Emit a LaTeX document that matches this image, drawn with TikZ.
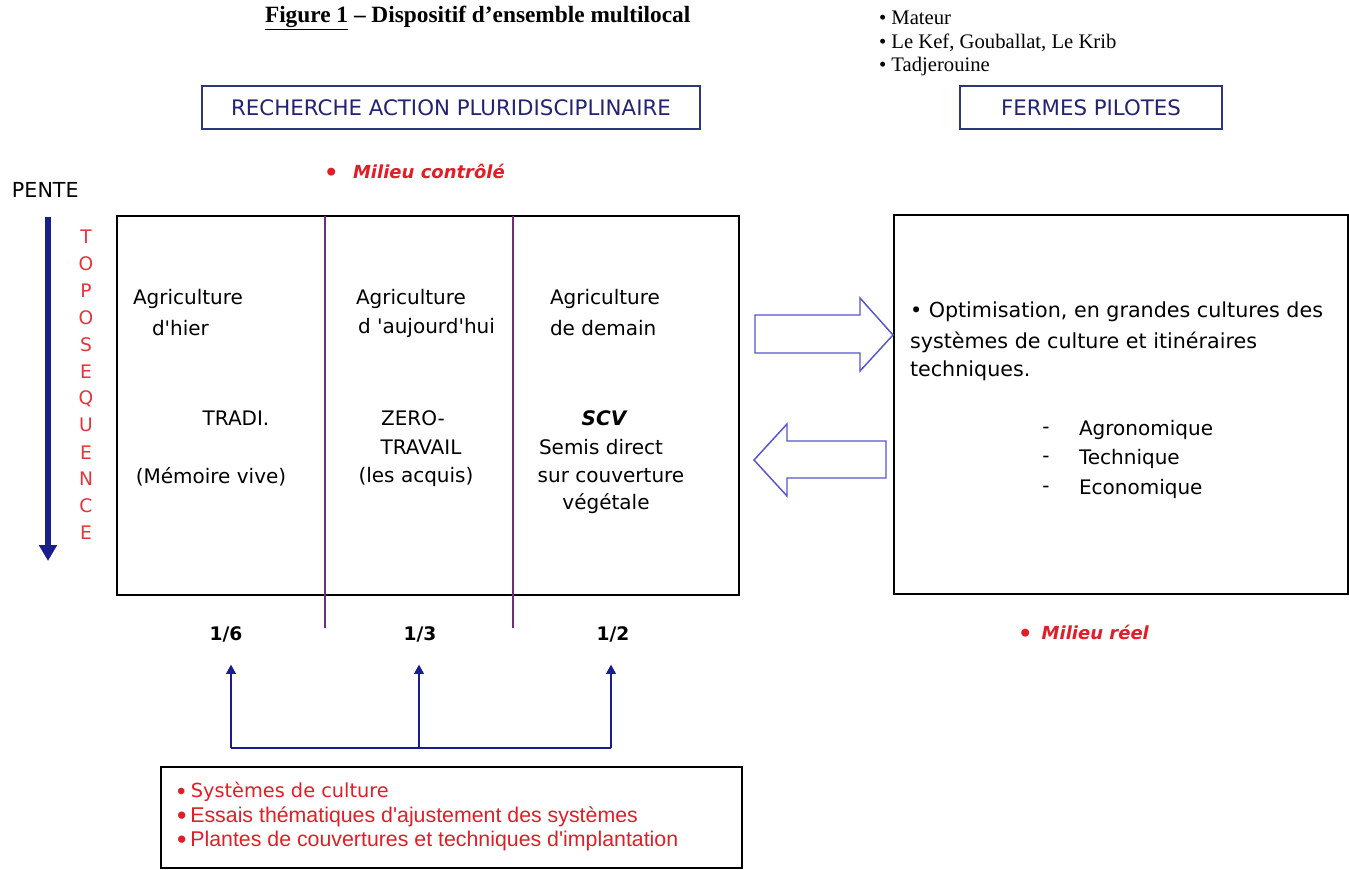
\documentclass[tikz,border=0pt]{standalone}
\usepackage{fontspec}
\setmainfont{Liberation Serif}
\newfontfamily\comicfont{DejaVu Sans}
\newfontfamily\arialfont{Liberation Sans}
\usetikzlibrary{fit,arrows.meta}

\definecolor{navy}{RGB}{35,35,115}
\definecolor{arrowblue}{RGB}{25,30,140}
\definecolor{alertred}{RGB}{225,30,40}
\definecolor{blockblue}{RGB}{85,85,205}
\definecolor{divpurple}{RGB}{110,45,125}
\definecolor{frameblue}{RGB}{45,55,125}

\newcommand{\bigdot}{\raisebox{-0.22ex}{\scalebox{1.25}{\textbullet}}}

\begin{document}
\begin{tikzpicture}[x=0.75pt,y=-0.75pt,
  every node/.style={inner sep=0pt,outer sep=0pt},
  comic/.style={font=\comicfont\fontsize{15}{18}\selectfont},
  comicright/.style={font=\comicfont\fontsize{15.5}{18}\selectfont},
  tnr/.style={font=\fontsize{15.5}{18}\selectfont},
  milieu/.style={font=\comicfont\bfseries\itshape\fontsize{13.5}{16}\selectfont, text=alertred},
  fraclabel/.style={font=\comicfont\bfseries\fontsize{14}{17}\selectfont},
  topoletter/.style={font=\comicfont\fontsize{14}{16}\selectfont, text=alertred!90!white},
  boxframe/.style={draw, line width=1.2pt},
  titlebox/.style={draw=frameblue, line width=1.1pt},
  titletext/.style={text=navy, font=\comicfont\fontsize{16}{19}\selectfont},
  divider/.style={draw=divpurple, line width=1.1pt},
  blockarrow/.style={draw=blockblue, line width=1.1pt, fill=white, line join=miter},
  treeline/.style={draw=arrowblue, line width=1.8pt},
  treearrow/.style={treeline, -{Triangle[width=7pt,length=7pt]}},
  redtext/.style={text=alertred},
]
\useasboundingbox (0,0) rectangle (1349,869);
\fill[white] (0,0) rectangle (1349,869);

% heading and site list
\node[anchor=west, font=\bfseries\fontsize{17.5}{20}\selectfont] (title) at (265,18)
  {\underline{Figure 1} – Dispositif d'ensemble multilocal};
\node[anchor=west, tnr] (site1) at (879,18) {\textbullet\ Mateur};
\node[anchor=west, tnr] (site2) at (879,43) {\textbullet\ Le Kef, Gouballat, Le Krib};
\node[anchor=west, tnr] (site3) at (879,67) {\textbullet\ Tadjerouine};

% headline boxes
\node[fit={(202,86) (700,129)}, titlebox] (rap) {};
\node[titletext] (raptext) at (rap.center) {RECHERCHE ACTION PLURIDISCIPLINAIRE};
\node[fit={(960,86) (1222,129)}, titlebox] (fp) {};
\node[titletext] (fptext) at (fp.center) {FERMES PILOTES};

% controlled environment
\node[milieu, anchor=base west] (mc) at (324,178) {\bigdot\hspace{11pt}Milieu contrôlé};

% slope / toposequence
\node[anchor=west, font=\comicfont\fontsize{15.5}{18}\selectfont] (pente) at (12,190) {PENTE};
\coordinate (slopetop) at (48,217);
\coordinate (slopebot) at (48,561);
\draw[arrowblue, line width=4.5pt, -{Triangle[width=13pt,length=12pt]}] (slopetop) -- (slopebot);
\foreach \l [count=\i from 0] in {T,O,P,O,S,E,Q,U,E,N,C,E}
  \node[topoletter] (topo\i) at (86,237+26.9*\i) {\l};

% main experimental block
\node[fit={(117,216) (739,595)}, boxframe] (main) {};
\coordinate (d1) at (325,628);
\coordinate (d2) at (513,628);
\draw[divider] (main.north -| d1) -- (d1);
\draw[divider] (main.north -| d2) -- (d2);

\node[comic, anchor=west] (a1) at (133,299) {Agriculture};
\node[comic, anchor=west] (a1b) at (152,328) {d'hier};
\node[comic, anchor=west] (a2) at (356,299) {Agriculture};
\node[comic, anchor=west] (a2b) at (358,328) {d 'aujourd'hui};
\node[comic, anchor=west] (a3) at (550,299) {Agriculture};
\node[comic, anchor=west] (a3b) at (550,328) {de demain};

\node[comic] (tradi) at (236,418) {TRADI.};
\node[comic] (memo) at (211,477) {(Mémoire vive)};
\node[comic] (zero) at (413,418) {ZERO-};
\node[comic] (trav) at (421,447) {TRAVAIL};
\node[comic] (acq) at (416,477) {(les acquis)};
\node[font=\comicfont\bfseries\itshape\fontsize{15}{18}\selectfont] (scv) at (604,418) {SCV};
\node[comic] (semis) at (601,447) {Semis direct};
\node[comic] (couv) at (611,476) {sur couverture};
\node[comic] (veg) at (606,504) {végétale};

% pilot farms block
\node[fit={(894,215) (1348,594)}, boxframe] (farm) {};
\node[comicright, anchor=west] (o1) at (910,312) {• Optimisation, en grandes cultures des};
\node[comicright, anchor=west] (o2) at (910,342) {systèmes de culture et itinéraires};
\node[comicright, anchor=west] (o3) at (910,371) {techniques.};
\foreach \y/\t [count=\i] in {430/Agronomique, 459/Technique, 489/Economique} {
  \node[comic] (dash\i) at (1046,\y) {-};
  \node[comic, anchor=west] (crit\i) at (1079,\y) {\t};
}

% exchange arrows between the two blocks
\coordinate (rtip) at (893,335);
\draw[blockarrow] (rtip) -- ++(-33,-37) -- ++(0,17) -- ++(-105,0) -- ++(0,38)
  -- ++(105,0) -- ++(0,18) -- cycle;
\coordinate (ltip) at (754,460);
\draw[blockarrow] (ltip) -- ++(33,-36) -- ++(0,17) -- ++(99,0) -- ++(0,37)
  -- ++(-99,0) -- ++(0,18) -- cycle;

% shares and real environment
\node[fraclabel] (f16) at (226,634) {1/6};
\node[fraclabel] (f13) at (420,634) {1/3};
\node[fraclabel] (f12) at (613,634) {1/2};
\node[milieu, anchor=base west] (mr) at (1018,639) {\bigdot\hspace{7pt}Milieu réel};

% feed-back tree from the trials
\coordinate (jl) at (231,748);
\coordinate (jm) at (419,748);
\coordinate (jr) at (611,748);
\draw[treeline] (jl) -- (jr);
\draw[treearrow, shorten >=17pt] (jl) -- (jl |- f16.south);
\draw[treearrow, shorten >=17pt] (jm) -- (jm |- f13.south);
\draw[treearrow, shorten >=17pt] (jr) -- (jr |- f12.south);

% trials box
\node[fit={(161,767) (742,868)}, boxframe] (trials) {};
\node[redtext, anchor=base west, font=\comicfont\fontsize{14.5}{18}\selectfont] (t1) at (177,797)
  {{\arialfont\bigdot}\hspace{4pt}Systèmes de culture};
\node[redtext, anchor=base west, font=\arialfont\fontsize{16}{19}\selectfont] (t2) at (177,822)
  {\bigdot\hspace{3pt}Essais thématiques d'ajustement des systèmes};
\node[redtext, anchor=base west, font=\arialfont\fontsize{16}{19}\selectfont] (t3) at (177,846)
  {\bigdot\hspace{3pt}Plantes de couvertures et techniques d'implantation};
\end{tikzpicture}
\end{document}
